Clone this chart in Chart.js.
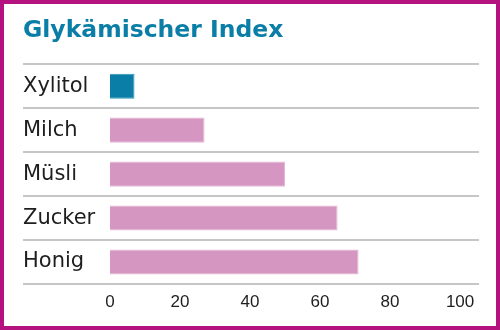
<!DOCTYPE html>
<html lang="de">
<head>
<meta charset="utf-8">
<title>Glykämischer Index</title>
<script src="https://cdn.jsdelivr.net/npm/chart.js@4/dist/chart.umd.min.js"></script>
<style>
  html, body {
    margin: 0;
    padding: 0;
    background: #fff;
  }

  .frame {
    position: relative;
    box-sizing: border-box;
    width: 500px;
    height: 330px;
    border: 4px solid #b3127f;
    background: #fff;
  }
</style>
</head>
<body>
<div class="frame">
  <canvas id="gi-chart"></canvas>
</div>
<script>
const categories = ['Xylitol', 'Milch', 'Müsli', 'Zucker', 'Honig'];
const glycemicIndex = [7, 27, 50, 65, 71];
const xTickValues = [0, 20, 40, 60, 80, 100];

const TEAL = '#0a7ea7';
const PINK = '#d597c2';
const LINE_GRAY = '#c6c6c6';
const TEXT = '#1e1e1e';

const canvas = document.querySelector('#gi-chart');

new Chart(canvas, {
  type: 'bar',
  data: {
    labels: categories,
    datasets: [
      {
        label: 'Glykämischer Index',
        data: glycemicIndex,
        // first bar (Xylitol) is highlighted
        backgroundColor: (ctx) => (ctx.dataIndex === 0 ? TEAL : PINK),
        borderColor: (ctx) => (ctx.dataIndex === 0 ? '#2f96bd' : '#e4b6d6'),
        borderWidth: 1,
        barPercentage: 0.57,
        categoryPercentage: 1,
      },
    ],
  },
  options: {
    indexAxis: 'y',
    responsive: true,
    maintainAspectRatio: false,
    animation: false,
    layout: {
      padding: { left: 19, right: 17, top: 0, bottom: 5.6 },
    },
    plugins: {
      legend: { display: false },
      tooltip: { enabled: false },
      title: {
        display: true,
        text: 'Glykämischer Index',
        align: 'start',
        color: TEAL,
        font: { family: 'DejaVu Sans', size: 23.5, weight: 'bold' },
        padding: { top: 13, bottom: 19 },
      },
    },
    scales: {
      x: {
        min: 0,
        max: 105.4,
        grid: { display: false, drawTicks: false },
        border: { display: false },
        afterBuildTicks: (scale) => {
          scale.ticks = xTickValues.map((v) => ({ value: v }));
        },
        ticks: {
          color: TEXT,
          padding: 8,
          font: { family: 'Liberation Sans', size: 17 },
        },
      },
      y: {
        offset: true,
        border: { display: false },
        grid: {
          offset: true,
          color: LINE_GRAY,
          lineWidth: 2,
          drawTicks: true,
          tickLength: 87,
        },
        // the separator lines run under the labels, so the axis keeps a fixed width
        afterFit: (scale) => {
          scale.width = 87;
        },
        ticks: {
          crossAlign: 'far',
          color: TEXT,
          padding: 0,
          font: { family: 'DejaVu Sans', size: 21 },
        },
      },
    },
  },
});
</script>
</body>
</html>
